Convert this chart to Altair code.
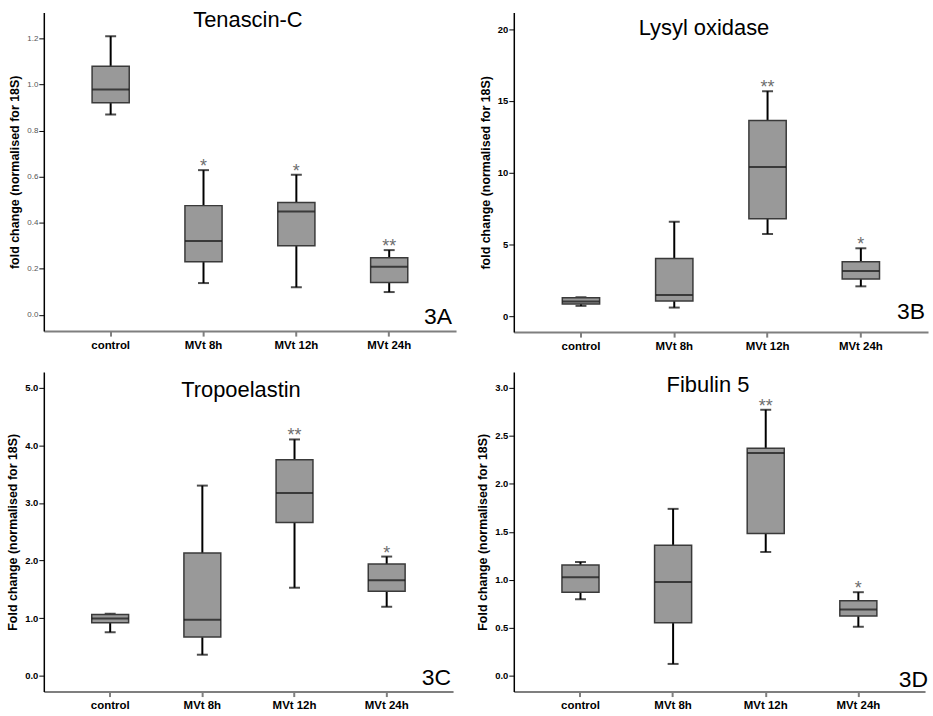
import altair as alt
import pandas as pd

cats = ["control", "MVt 8h", "MVt 12h", "MVt 24h"]

# 3A Tenascin-C
a_low = [0.869, 0.138, 0.120, 0.099]
a_q1 = [0.920, 0.230, 0.300, 0.140]
a_med = [0.978, 0.320, 0.449, 0.209]
a_q3 = [1.079, 0.474, 0.488, 0.248]
a_high = [1.209, 0.628, 0.608, 0.281]
a_star = ["", "*", "*", "**"]
a_ticks = [0.0, 0.2, 0.4, 0.6, 0.8, 1.0, 1.2]

# 3B Lysyl oxidase
b_low = [0.72, 0.60, 5.73, 2.08]
b_q1 = [0.85, 1.06, 6.79, 2.59]
b_med = [1.02, 1.48, 10.39, 3.14]
b_q3 = [1.28, 4.02, 13.63, 3.79]
b_high = [1.32, 6.58, 15.68, 4.73]
b_star = ["", "", "**", "*"]
b_ticks = [0, 5, 10, 15, 20]

# 3C Tropoelastin
c_low = [0.760, 0.369, 1.53, 1.20]
c_q1 = [0.922, 0.674, 2.66, 1.47]
c_med = [0.997, 0.974, 3.17, 1.66]
c_q3 = [1.066, 2.13, 3.75, 1.94]
c_high = [1.077, 3.30, 4.10, 2.07]
c_star = ["", "", "**", "*"]
c_ticks = [0.0, 1.0, 2.0, 3.0, 4.0, 5.0]

# 3D Fibulin 5
d_low = [0.799, 0.125, 1.291, 0.512]
d_q1 = [0.872, 0.554, 1.484, 0.623]
d_med = [1.028, 0.979, 2.322, 0.692]
d_q3 = [1.156, 1.360, 2.370, 0.782]
d_high = [1.187, 1.740, 2.772, 0.872]
d_star = ["", "", "**", "*"]
d_ticks = [0.0, 0.5, 1.0, 1.5, 2.0, 2.5, 3.0]

FONT = "Liberation Sans"


def panel(title, tag, low, q1, med, q3, high, stars, domain, ticks, fmt,
          ytitle, w, h, lab_size, lab_weight, lab_color,
          title_x, title_y, tag_x, tag_y):
    df = pd.DataFrame({"cat": cats, "low": low, "q1": q1, "med": med,
                       "q3": q3, "high": high, "star": stars})
    xenc = alt.X("cat:N", sort=cats, title=None,
                 scale=alt.Scale(type="band", paddingInner=0.6, paddingOuter=0.52),
                 axis=alt.Axis(labelAngle=0, labelFont=FONT, labelFontSize=11.5,
                               labelFontWeight="bold", labelColor="black",
                               labelPadding=3, domainColor="#7f7f7f", domainWidth=2,
                               tickColor="#7f7f7f", tickWidth=2, tickSize=5))
    yscale = alt.Scale(domain=domain, nice=False, zero=False)
    yaxis = alt.Axis(title=ytitle, values=ticks, format=fmt, grid=False,
                     labelFont=FONT, labelFontSize=lab_size, labelFontWeight=lab_weight,
                     labelColor=lab_color, labelPadding=1,
                     domainColor="black", domainWidth=1.5,
                     tickColor="black", tickWidth=1, tickSize=5,
                     titleFont=FONT, titleFontSize=12.5, titleFontWeight="bold",
                     titleColor="black", titlePadding=5)

    def Y(field):
        return alt.Y(field, scale=yscale, axis=yaxis)

    base = alt.Chart(df)
    w1 = base.mark_rule(color="black", strokeWidth=2).encode(x=xenc, y=Y("low:Q"), y2="q1:Q")
    w2 = base.mark_rule(color="black", strokeWidth=2).encode(x=xenc, y=Y("q3:Q"), y2="high:Q")
    cap_lo = base.mark_tick(color="black", thickness=2, size=11).encode(x=xenc, y=Y("low:Q"))
    cap_hi = base.mark_tick(color="black", thickness=2, size=11).encode(x=xenc, y=Y("high:Q"))
    box = base.mark_bar(color="#999999", stroke="#3a3a3a", strokeWidth=1.5).encode(
        x=xenc, y=Y("q1:Q"), y2="q3:Q")
    median = base.mark_tick(color="#111111", thickness=2, size=37).encode(x=xenc, y=Y("med:Q"))
    star = base.mark_text(font=FONT, fontSize=18, color="#6e6e6e", baseline="alphabetic",
                          dy=2).encode(x=xenc, y=Y("high:Q"), text="star:N")
    tdf = pd.DataFrame({"t": [title]})
    ttl = alt.Chart(tdf).mark_text(font=FONT, fontSize=22, color="black",
                                   baseline="alphabetic", align="center").encode(
        text="t:N", x=alt.value(title_x), y=alt.value(title_y))
    gdf = pd.DataFrame({"t": [tag]})
    tg = alt.Chart(gdf).mark_text(font=FONT, fontSize=23, color="black",
                                  baseline="alphabetic", align="right").encode(
        text="t:N", x=alt.value(tag_x), y=alt.value(tag_y))
    return alt.layer(w1, w2, cap_lo, cap_hi, box, median, star, ttl, tg).properties(
        width=w, height=h)


pA = panel("Tenascin-C", "3A", a_low, a_q1, a_med, a_q3, a_high, a_star,
           [-0.0705, 1.312], a_ticks, ".1f", "fold change (normalised for 18S)",
           414, 320, 8, "normal", "#555555", 205, 15, 410, 313)
pB = panel("Lysyl oxidase", "3B", b_low, b_q1, b_med, b_q3, b_high, b_star,
           [-1.11, 21.16], b_ticks, "d", "fold change (normalised for 18S)",
           416, 321, 9.5, "bold", "black", 191, 23, 413, 308)
pC = panel("Tropoelastin", "3C", c_low, c_q1, c_med, c_q3, c_high, c_star,
           [-0.27, 5.27], c_ticks, ".1f", "Fold change (normalised for 18S)",
           411, 321, 9.5, "bold", "black", 198, 25, 409, 314)
pD = panel("Fibulin 5", "3D", d_low, d_q1, d_med, d_q3, d_high, d_star,
           [-0.163, 3.166], d_ticks, ".1f", "Fold change (normalised for 18S)",
           413, 321, 9.5, "bold", "black", 195, 20, 416, 316)

chart = alt.vconcat(
    alt.hconcat(pA, pB, spacing=23),
    alt.hconcat(pC, pD, spacing=23),
    spacing=20,
).properties(
    padding={"left": 6, "top": 8, "right": 5, "bottom": 5},
    background="white",
).configure_view(stroke=None)

chart.save("out.html", embed_options={"renderer": "svg", "actions": False})
